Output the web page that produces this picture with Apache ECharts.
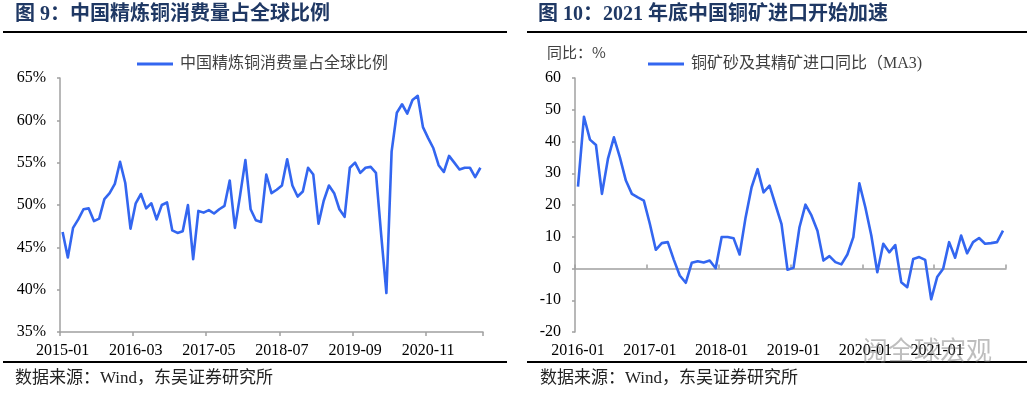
<!DOCTYPE html>
<html>
<head>
<meta charset="utf-8">
<script src="https://cdn.jsdelivr.net/npm/echarts@6/dist/echarts.min.js"></script>
<style>
html,body{margin:0;padding:0;background:#fff;}
#chart{width:1029px;height:396px;}
</style>
</head>
<body>
<div id="chart"></div>
<script>
// ---------- data ----------
function monthRange(year, month, count) {
  var out = [];
  for (var i = 0; i < count; i++) {
    var m = month - 1 + i;
    var y = year + Math.floor(m / 12);
    var mm = (m % 12) + 1;
    out.push(y + '-' + (mm < 10 ? '0' + mm : '' + mm));
  }
  return out;
}
const leftTitle = '图 9：中国精炼铜消费量占全球比例';
const rightTitle = '图 10：2021 年底中国铜矿进口开始加速';
const leftSeriesName = '中国精炼铜消费量占全球比例';
const rightSeriesName = '铜矿砂及其精矿进口同比（MA3)';
const rightUnit = '同比：%';
const sourceText = '数据来源：Wind，东吴证券研究所';
const watermarkText = '阅全球宏观';

const leftCategories = monthRange(2015, 1, 81);   // 2015-01 .. 2021-09
const leftValues = [
  46.8,43.8,47.3,48.3,49.5,49.6,48.1,48.4,50.7,51.4,
  52.5,55.1,52.6,47.2,50.2,51.3,49.6,50.2,48.3,50.0,
  50.3,47.0,46.7,46.9,50.0,43.6,49.3,49.1,49.4,49.0,
  49.5,49.9,52.9,47.3,51.2,55.3,49.5,48.2,48.0,53.6,
  51.4,51.8,52.3,55.4,52.3,51.0,51.6,54.4,53.6,47.8,
  50.5,52.3,51.4,49.5,48.6,54.4,55.0,53.8,54.4,54.5,
  53.8,46.5,39.6,56.3,60.9,61.9,60.8,62.4,62.9,59.2,
  57.9,56.7,54.7,53.9,55.8,55.0,54.2,54.4,54.4,53.3,
  54.4
];
const leftYTicks = { min: 35, max: 65, interval: 5 };

const rightCategories = monthRange(2016, 1, 72);  // 2016-01 .. 2021-12
const rightValues = [
  25.8,47.8,40.6,38.9,23.5,34.5,41.3,35.0,27.7,23.5,
  22.4,21.4,14.1,5.9,8.0,8.3,2.8,-2.2,-4.5,1.8,
  2.3,1.9,2.5,0.1,9.9,9.9,9.5,4.4,16.1,25.6,
  31.3,24.0,26.1,20.0,14.0,-0.4,0.2,13.0,20.1,16.7,
  11.9,2.5,3.9,2.0,1.3,4.4,9.9,26.8,19.3,10.4,
  -1.2,7.8,5.1,7.4,-4.3,-5.9,3.0,3.6,2.7,-9.7,
  -2.7,-0.1,8.3,3.4,10.4,4.8,8.3,9.6,7.8,8.0,
  8.3,11.9
];
const rightYTicks = { min: -20, max: 60, interval: 10 };

// ---------- styles ----------
const LINE = '#3366f0';
const AXIS = '#a0a0a0';
const SERIF = '"Liberation Serif","Noto Sans CJK SC",serif';
const MIXED = '"Liberation Serif","Noto Sans CJK SC",sans-serif';
const CJK = '"Noto Sans CJK SC","Liberation Serif",sans-serif';
const NAVY = '#1f3864';

const chart = echarts.init(document.getElementById('chart'), null, {renderer: 'canvas'});

const axisLabelStyle = { color: '#000', fontFamily: SERIF, fontSize: 16 };

const option = {
  backgroundColor: '#fff',
  animation: false,
  legend: [
    {
      left: 132, top: 51, itemWidth: 36, itemHeight: 3, itemGap: 10, icon: 'rect',
      data: [leftSeriesName],
      textStyle: { color: '#404040', fontFamily: MIXED, fontSize: 16, padding: [0, 0, 0, 2] }
    },
    {
      left: 643, top: 51, itemWidth: 36, itemHeight: 3, itemGap: 10, icon: 'rect',
      data: [rightSeriesName],
      textStyle: { color: '#404040', fontFamily: MIXED, fontSize: 16, padding: [0, 0, 0, 2] }
    }
  ],
  grid: [
    { left: 60, right: 546, top: 78, bottom: 64, containLabel: false },
    { left: 575, right: 23, top: 78, bottom: 64, containLabel: false }
  ],
  xAxis: [
    {
      gridIndex: 0, type: 'category', data: leftCategories, boundaryGap: true,
      axisLine: { show: true, onZero: false, lineStyle: { color: AXIS, width: 1.5 } },
      axisTick: { show: true, interval: 13, length: 4, lineStyle: { color: AXIS, width: 1.5 } },
      axisLabel: Object.assign({ interval: 13, margin: 11 }, axisLabelStyle),
      splitLine: { show: false }
    },
    {
      gridIndex: 1, type: 'category', data: rightCategories, boundaryGap: true,
      axisLine: { show: false, onZero: false },
      axisTick: { show: false },
      axisLabel: Object.assign({ interval: 11, margin: 11 }, axisLabelStyle),
      splitLine: { show: false }
    },
    {
      gridIndex: 1, type: 'category', data: rightCategories, boundaryGap: true,
      axisLine: { show: true, onZero: true, lineStyle: { color: AXIS, width: 1.5 } },
      axisTick: { show: true, interval: 11, length: 4, lineStyle: { color: AXIS, width: 1.5 } },
      axisLabel: { show: false },
      splitLine: { show: false }
    }
  ],
  yAxis: [
    {
      gridIndex: 0, type: 'value', min: leftYTicks.min, max: leftYTicks.max, interval: leftYTicks.interval,
      axisLine: { show: true, lineStyle: { color: AXIS, width: 1.5 } },
      axisTick: { show: true, length: 3, lineStyle: { color: AXIS, width: 1.5 } },
      axisLabel: Object.assign({ margin: 14, formatter: '{value}%' }, axisLabelStyle),
      splitLine: { show: false }
    },
    {
      gridIndex: 1, type: 'value', min: rightYTicks.min, max: rightYTicks.max, interval: rightYTicks.interval,
      axisLine: { show: true, onZero: false, lineStyle: { color: AXIS, width: 1.5 } },
      axisTick: { show: true, length: 3, lineStyle: { color: AXIS, width: 1.5 } },
      axisLabel: Object.assign({ margin: 14 }, axisLabelStyle),
      splitLine: { show: false }
    }
  ],
  series: [
    {
      name: leftSeriesName, type: 'line', xAxisIndex: 0, yAxisIndex: 0,
      data: leftValues, symbol: 'none', smooth: false,
      lineStyle: { color: LINE, width: 2.6, join: 'round' },
      itemStyle: { color: LINE }
    },
    {
      name: rightSeriesName, type: 'line', xAxisIndex: 1, yAxisIndex: 1,
      data: rightValues, symbol: 'none', smooth: false,
      lineStyle: { color: LINE, width: 2.6, join: 'round' },
      itemStyle: { color: LINE }
    }
  ],
  graphic: [
    { type: 'text', left: 15, top: 5, style: { text: leftTitle, fill: NAVY, font: 'bold 20px ' + MIXED } },
    { type: 'text', left: 538, top: 5, style: { text: rightTitle, fill: NAVY, font: 'bold 20px ' + MIXED } },
    { type: 'rect', shape: { x: 3, y: 31, width: 504, height: 2 }, style: { fill: '#000' } },
    { type: 'rect', shape: { x: 527, y: 31, width: 500, height: 2 }, style: { fill: '#000' } },
    { type: 'rect', shape: { x: 3, y: 361, width: 504, height: 2 }, style: { fill: '#000' } },
    { type: 'rect', shape: { x: 527, y: 361, width: 500, height: 2 }, style: { fill: '#000' } },
    { type: 'text', left: 15, top: 370, style: { text: sourceText, fill: '#222', font: '17px ' + MIXED } },
    { type: 'text', left: 540, top: 370, style: { text: sourceText, fill: '#222', font: '17px ' + MIXED } },
    { type: 'text', left: 547, top: 45, style: { text: rightUnit, fill: '#404040', font: '15px ' + CJK } },
    { type: 'text', left: 862, top: 337, z: 100, style: { text: watermarkText, fill: 'rgba(110,110,110,0.45)', font: '26px ' + CJK } }
  ]
};
chart.setOption(option);
</script>
</body>
</html>
